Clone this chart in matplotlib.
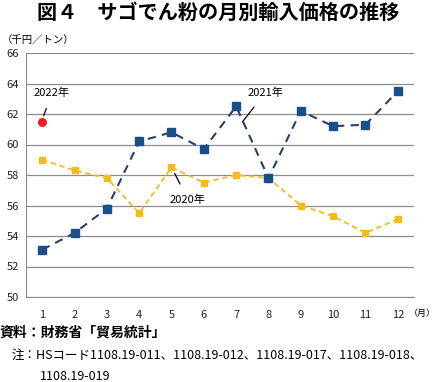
import numpy as np
import matplotlib
matplotlib.use("Agg")
import matplotlib.pyplot as plt

plt.rcParams['font.family'] = ['Noto Sans CJK JP', 'DejaVu Sans']

months = list(range(1, 13))
month_labels = [str(m) for m in months]
y2020 = [59.0, 58.3, 57.8, 55.5, 58.5, 57.5, 58.0, 57.8, 56.0, 55.3, 54.2, 55.1]
y2021 = [53.1, 54.2, 55.8, 60.2, 60.8, 59.7, 62.5, 57.8, 62.2, 61.2, 61.3, 63.5]
y2022 = [61.5]
yticks = [50, 52, 54, 56, 58, 60, 62, 64, 66]

fig = plt.figure(figsize=(4.37, 3.82), dpi=100)
ax = fig.add_axes([26/437, 1-297/382, 388/437, 244/382])

ax.plot(months, y2020, color='#F3BB1C', lw=1.3, ls=(0, (3, 2)),
        marker='s', ms=4, mfc='#F3BB1C', mec='#F3BB1C', zorder=3)
ax.plot(months, y2021, color='#2B3F6B', lw=1.5, ls=(0, (4, 3)),
        marker='s', ms=5.2, mfc='#1B4F8A', mec='#1B4F8A', zorder=4)
ax.plot(months[:1], y2022, ls='none', marker='o', ms=5.5,
        mfc='#E8202A', mec='#E8202A', zorder=5)

ax.set_xlim(0.5, 12.5)
ax.set_ylim(50, 66)
ax.set_yticks(yticks)
ax.set_xticks(months)
ax.set_xticklabels(month_labels)
ax.yaxis.grid(True, color='#8c8c8c', lw=0.9)
ax.set_axisbelow(True)
ax.tick_params(length=0, labelsize=8, colors='#222222')
ax.tick_params(axis='y', pad=14)
ax.tick_params(axis='x', pad=9)
for lab in ax.get_yticklabels():
    lab.set_horizontalalignment('left')
for s in ['top', 'right']:
    ax.spines[s].set_visible(False)
for s in ['left', 'bottom']:
    ax.spines[s].set_color('#8c8c8c')

# annotations
ax.annotate('2022年', xy=(1.05, 61.9), xytext=(1.3, 63.4), fontsize=8,
            ha='center', va='center',
            arrowprops=dict(arrowstyle='-', color='black', lw=0.9, shrinkA=6, shrinkB=0))
ax.annotate('2021年', xy=(7.2, 61.5), xytext=(7.9, 63.4), fontsize=8,
            ha='center', va='center',
            arrowprops=dict(arrowstyle='-', color='black', lw=0.9, shrinkA=6, shrinkB=0))
ax.annotate('2020年', xy=(5.1, 58.1), xytext=(5.5, 56.4), fontsize=8,
            ha='center', va='center',
            arrowprops=dict(arrowstyle='-', color='black', lw=0.9, shrinkA=6, shrinkB=0))

fig.text(218/437, 1-12/382, '図４　サゴでん粉の月別輸入価格の推移', fontsize=14.5,
         fontweight='bold', ha='center', va='center')
fig.text(2/437, 1-40/382, '（千円／トン）', fontsize=7.5, ha='left', va='center')
fig.text(409/437, 1-313/382, '（月）', fontsize=6.5, ha='left', va='center')
fig.text(0, 1-333/382, '資料：財務省「貿易統計」', fontsize=10, fontweight='bold',
         ha='left', va='center')
fig.text(12/437, 1-355/382,
         '注：HSコード1108.19-011、1108.19-012、1108.19-017、1108.19-018、',
         fontsize=9.0, ha='left', va='center')
fig.text(40/437, 1-376/382, '1108.19-019', fontsize=9.0, ha='left', va='center')

fig.savefig('out.png', dpi=100)
